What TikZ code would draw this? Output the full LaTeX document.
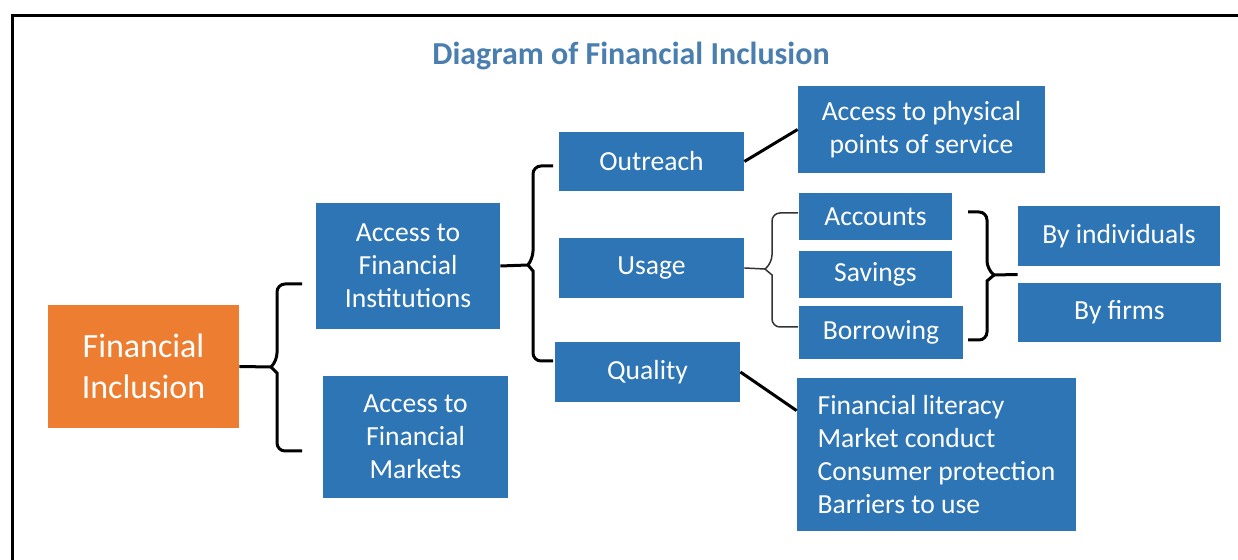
\documentclass[tikz,border=0pt]{standalone}
\usepackage{fontspec}
\setmainfont{Carlito}
\usetikzlibrary{calc}

\definecolor{boxblue}{HTML}{2E75B6}
\definecolor{fiorange}{HTML}{ED7D31}
\definecolor{titleblue}{HTML}{4A7EAF}

\tikzset{
  box/.style={fill=boxblue, text=white, align=center, inner sep=0pt,
    font=\fontsize{13.8}{16.5}\selectfont},
  conn/.style={line width=1.5pt},
  thinconn/.style={line width=0.75pt, black!80},
}

\begin{document}
\begin{tikzpicture}[x=0.5pt, y=-0.5pt]
    \useasboundingbox (0,0) rectangle (1238,560);
    \draw[line width=1.5pt] (12,560) -- (12,15.5) -- (1238,15.5);

    \node[text=titleblue, font=\fontsize{16}{19}\selectfont\bfseries] at (631,56) (title) {Diagram of Financial Inclusion};

    \node[box, fill=fiorange, minimum width=95.5pt, minimum height=61.5pt,
      font=\fontsize{17}{20.5}\selectfont] at (143.5,366.5) (FI) {Financial\\Inclusion};

    \node[box, minimum width=92pt, minimum height=63pt] at (408,266) (AFI) {Access to\\Financial\\Institutions};
    \node[box, minimum width=92.5pt, minimum height=61pt] at (415.5,437) (AFM) {Access to\\Financial\\Markets};

    \node[box, minimum width=92.5pt, minimum height=29.5pt] at (651.5,161.5) (Outreach) {Outreach};
    \node[box, minimum width=92.5pt, minimum height=30pt] at (651.5,268) (Usage) {Usage};
    \node[box, minimum width=92.5pt, minimum height=30pt] at (647.5,372) (Quality) {Quality};

    \node[box, minimum width=123.5pt, minimum height=43.5pt] at (921.5,129.5) (Physical) {Access to physical\\points of service};

    \node[box, minimum width=76.5pt, minimum height=23.5pt] at (875.5,216.5) (Accounts) {Accounts};
    \node[box, minimum width=76.5pt, minimum height=23.5pt] at (875.5,274.5) (Savings) {Savings};
    \node[box, minimum width=82pt, minimum height=26.5pt] at (881,332.5) (Borrowing) {Borrowing};

    \node[box, minimum width=101pt, minimum height=30pt] at (1119,236) (Indiv) {By individuals};
    \node[box, minimum width=101.5pt, minimum height=29.5pt] at (1119.5,312.5) (Firms) {By firms};

    \node[box, align=left, minimum width=139.5pt, minimum height=76.5pt] at (936.5,454.5) (Aspects)
      {Financial literacy\\Market conduct\\Consumer protection\\Barriers to use};

    % brace from Financial Inclusion
    \coordinate (tipFI) at (271,367);
    \draw[conn] (FI.east) -- (tipFI);
    \draw[conn, rounded corners=4pt] (302,284) -- (277,284) -- (277,361)
      [sharp corners] -- (tipFI) -- (277,373) [rounded corners=4pt] -- (277,451) -- (302,451);

    % brace from Access to Financial Institutions
    \coordinate (tipAFI) at (528,265);
    \draw[conn] (AFI.east) -- (tipAFI);
    \draw[conn, rounded corners=4pt] (553,166) -- (533,166) -- (533,259)
      [sharp corners] -- (tipAFI) -- (533,271) [rounded corners=4pt] -- (533,361) -- (553,361);

    % brace from Usage
    \coordinate (tipUsage) at (765,269);
    \draw[thinconn] (Usage.east) -- (tipUsage);
    \draw[thinconn, rounded corners=4pt] (798,213) -- (772,213) -- (772,263)
      [sharp corners] -- (tipUsage) -- (772,275) [rounded corners=4pt] -- (772,327) -- (798,327);

    % brace towards individuals and firms
    \coordinate (tipBy) at (994,275);
    \draw[conn] (tipBy) -- ($(Indiv.south west)!0.5!(Firms.north west)$);
    \draw[conn, rounded corners=4pt] (968,212) -- (987,212) -- (987,269)
      [sharp corners] -- (tipBy) -- (987,281) [rounded corners=4pt] -- (987,340) -- (968,340);

    \draw[conn] (Outreach.east) -- (Physical.west);
    \draw[conn] (Quality.east) -- ([yshift=-16.5pt]Aspects.north west);
\end{tikzpicture}
\end{document}
